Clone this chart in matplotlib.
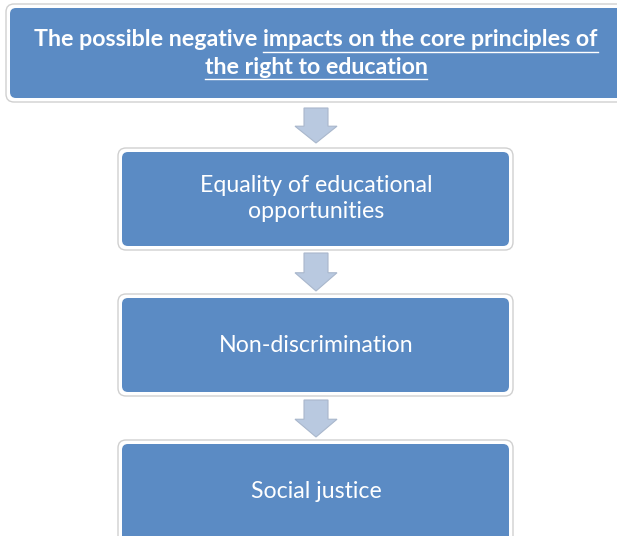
import matplotlib.pyplot as plt
from matplotlib.patches import FancyBboxPatch, Polygon

# flowchart content
header_lines = ["The possible negative impacts on the core principles of", "the right to education"]
header_underlined = ["impacts on the core principles of", "the right to education"]
step_labels = ["Equality of educational\nopportunities", "Non-discrimination", "Social justice"]

BOX_BLUE = "#5b8bc4"
ARROW_FILL = "#b9c9e0"
ARROW_EDGE = "#a9b7cc"
RIM = "#d0d0d0"
FONT = ["Lato", "DejaVu Sans"]
FS = 16.7

fig = plt.figure(figsize=(6.17, 5.36), dpi=100)
ax = fig.add_axes([0, 0, 1, 1])
ax.set_xlim(0, 617)
ax.set_ylim(536, 0)
ax.axis("off")


def draw_box(x0, y0, x1, y1):
    # white rim with a light grey edge, then the blue rounded box
    rim = FancyBboxPatch((x0 - 4, y0 - 4), x1 - x0 + 8, y1 - y0 + 8,
                         boxstyle="round,pad=0,rounding_size=8",
                         fc="white", ec=RIM, lw=1.0)
    ax.add_patch(rim)
    box = FancyBboxPatch((x0, y0), x1 - x0, y1 - y0,
                         boxstyle="round,pad=0,rounding_size=6",
                         fc=BOX_BLUE, ec="none")
    ax.add_patch(box)


def draw_arrow(cx, y_top, y_tip):
    head_y = y_top + (y_tip - y_top) * 0.52
    pts = [(cx - 12, y_top), (cx + 12, y_top), (cx + 12, head_y), (cx + 21, head_y),
           (cx, y_tip), (cx - 21, head_y), (cx - 12, head_y)]
    ax.add_patch(Polygon(pts, closed=True, fc=ARROW_FILL, ec=ARROW_EDGE, lw=0.8))


# header box runs past the right edge
draw_box(10, 8, 640, 98)
step_boxes = [(122, 152, 509, 246), (122, 298, 509, 392), (122, 444, 509, 560)]
for b in step_boxes:
    draw_box(*b)

arrow_spans = [(108, 143), (253, 291), (400, 437)]
for top, tip in arrow_spans:
    draw_arrow(316, top, tip)

# header text with partial underline
renderer = fig.canvas.get_renderer()
inv = ax.transData.inverted()
header_y = [40, 67]
for line, under, y in zip(header_lines, header_underlined, header_y):
    t = ax.text(316, y, line, ha="center", va="center", color="white",
                fontsize=FS, fontweight="bold", family=FONT)
    bb = t.get_window_extent(renderer)
    tmp = ax.text(0, 0, under, fontsize=FS, fontweight="bold", family=FONT)
    w = tmp.get_window_extent(renderer).width
    tmp.remove()
    x_end = inv.transform((bb.x1, bb.y0))[0]
    x_start = inv.transform((bb.x1 - w, bb.y0))[0]
    ax.plot([x_start, x_end], [y + 12, y + 12], color="white", lw=1.0)

text_y = [198.5, 345, 491]
for label, y in zip(step_labels, text_y):
    ax.text(316, y, label, ha="center", va="center", color="white",
            fontsize=FS, family=FONT, linespacing=1.35)

fig.savefig("out.png", dpi=100)
